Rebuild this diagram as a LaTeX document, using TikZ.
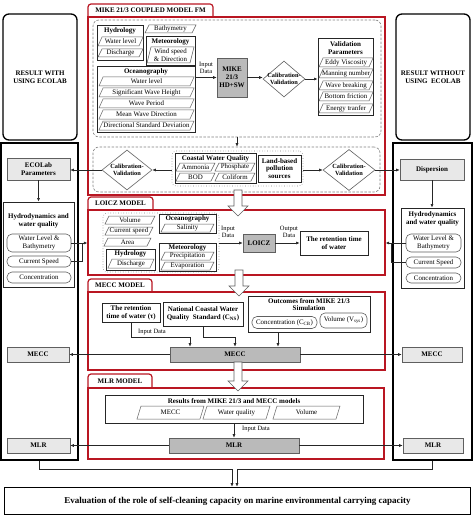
\documentclass[tikz,border=0pt]{standalone}
\usepackage{fontspec}
\setmainfont{Liberation Serif}
\usepackage{tikz}
\usetikzlibrary{calc,positioning,fit,shapes.geometric,arrows.meta}
\definecolor{modelred}{RGB}{185,22,34}
\definecolor{boxgray}{RGB}{186,186,186}
\definecolor{lightfill}{RGB}{232,232,232}
\definecolor{edgegray}{RGB}{95,95,95}
\def\slantbox#1(#2,#3,#4,#5)#6{\draw[slantline] ({#2+2},#3) -- ({#4+2},#3) -- ({#4-2},#5) -- ({#2-2},#5) -- cycle;
	\node[itemtext] (#1) at ({(#2+#4)/2},{(#3+#5)/2}) {#6};}
\def\hollowdown(#1,#2,#3){\draw[hollowline] ({#1-4},#2) -- ({#1+4},#2) -- ({#1+4},{#3-10}) -- ({#1+10},{#3-10}) -- (#1,#3) -- ({#1-10},{#3-10}) -- ({#1-4},{#3-10}) -- cycle;}

\begin{document}
\begin{tikzpicture}[x=1pt, y=-1pt,
	itemtext/.style={inner sep=0, font=\fontsize{6.9}{7.4}\selectfont, align=center},
	lbl/.style={inner sep=0, font=\fontsize{6.5}{7.2}\selectfont, align=center},
	head/.style={inner sep=0, font=\bfseries\fontsize{7}{7.8}\selectfont, align=center},
	slantline/.style={draw=edgegray, line width=0.5pt, fill=white},
	hollowline/.style={draw=edgegray, line width=0.6pt, fill=white},
	redline/.style={draw=modelred, line width=1.2pt},
	catbox/.style={draw=black!85, line width=0.9pt, fill=white, inner sep=0},
	plainbox/.style={draw=black!85, line width=0.8pt, fill=white, inner sep=0, font=\bfseries\fontsize{7}{7.8}\selectfont, align=center},
	graybox/.style={draw=edgegray, line width=0.6pt, fill=boxgray, inner sep=0, font=\bfseries\fontsize{7}{7.8}\selectfont, align=center},
	lightbox/.style={draw=edgegray, line width=0.6pt, fill=lightfill, inner sep=0, font=\bfseries\fontsize{7}{7.8}\selectfont, align=center},
	pill/.style={draw=edgegray, line width=0.6pt, rounded corners=5pt, inner sep=0, font=\fontsize{6.9}{7.4}\selectfont, align=center},
	dashbox/.style={draw=gray, line width=0.6pt, dash pattern=on 2.5pt off 1.5pt, rounded corners=6pt, inner sep=0},
	dotbox/.style={draw=gray, line width=0.6pt, dotted, rounded corners=4pt, inner sep=0},
	caldiam/.style={diamond, draw=edgegray, line width=0.6pt, fill=white, inner sep=0},
	outerbox/.style={draw=black, line width=1.4pt, inner sep=0},
	resbox/.style={draw=black, line width=1.3pt, rounded corners=6pt, inner sep=0},
	conn/.style={draw=black!85, line width=0.6pt, -{Latex[length=3.5pt,width=3pt]}},
	]
	%%%%% START %%%%%
	\useasboundingbox (0,0) rectangle (474,516);
	
	% left column
	\node[resbox, fit={(3,14) (77,140)}] (resL) {};
	\node[head] (resLt) at (resL) {RESULT WITH\\USING ECOLAB};
	\node[outerbox, fit={(1,143) (78,460)}] (colL) {};
	\node[lightbox, minimum width=63, minimum height=22] (ecoL) at (38.5,169) {ECOLab\\Parameters};
	\node[catbox, fit={(3,202) (74,287)}] (hydL) {};
	\node[head] (hydLt) at (38.5,221) {Hydrodynamics and\\water quality};
	\node[pill, minimum width=64, minimum height=18] (wlL) at (39,243) {Water Level \&\\Bathymetry};
	\node[pill, minimum width=64, minimum height=11] (csL) at (39,261.5) {Current Speed};
	\node[pill, minimum width=64, minimum height=11] (coL) at (39,277.5) {Concentration};
	\node[lightbox, minimum width=62, minimum height=15] (meccL) at (38,354.5) {MECC};
	\node[lightbox, minimum width=63, minimum height=15] (mlrL) at (38.5,445.5) {MLR};
	
	% right column
	\node[resbox, fit={(396,14) (470,140)}] (resR) {};
	\node[head] (resRt) at (resR) {RESULT WITHOUT\\USING\ \ ECOLAB};
	\node[outerbox, fit={(393,143) (472,460)}] (colR) {};
	\node[lightbox, minimum width=64, minimum height=21] (disp) at (432,169.5) {Dispersion};
	\node[catbox, fit={(401,208) (464,288)}] (hydR) {};
	\node[head] (hydRt) at (432.5,219) {Hydrodynamics\\and water quality};
	\node[pill, minimum width=55, minimum height=18] (wlR) at (433.5,243) {Water Level \&\\Bathymetry};
	\node[pill, minimum width=55, minimum height=11] (csR) at (433.5,262.5) {Current Speed};
	\node[pill, minimum width=55, minimum height=10] (coR) at (433.5,278) {Concentration};
	\node[lightbox, minimum width=60, minimum height=15] (meccR) at (432,354.5) {MECC};
	\node[lightbox, minimum width=60, minimum height=15] (mlrR) at (433,445.5) {MLR};
	
	% MIKE 21/3
	\draw[redline, rounded corners=3pt, fill=white] (88,17) -- (88,4) -- (213,4) -- (213,17);
	\node[head] (mikeT) at (150.5,10.5) {MIKE 21/3 COUPLED MODEL FM};
	\node[redline, inner sep=0, fit={(88,17) (385,195)}] (mikeF) {};
	\node[dashbox, fit={(93,20) (381,137)}] (mikeIn) {};
	
	\node[catbox, fit={(97,25) (143,60)}] (hydro1) {};
	\node[head] (hydro1t) at (120,31) {Hydrology};
	\slantbox{pwl1}(100,37,141,46){Water level}
	\slantbox{pdis1}(100,49,141,57){Discharge}
	\slantbox{pbat}(147,25,194,33){Bathymetry}
	\node[catbox, fit={(146,36) (195,65)}] (meteo1) {};
	\node[head] (meteo1t) at (170.5,42) {Meteorology};
	\slantbox{pwind}(149,47,192,63){Wind speed\\\& Direction}
	\node[catbox, fit={(97,66) (195,132)}] (ocean1) {};
	\node[head] (ocean1t) at (146,72) {Oceanography};
	\slantbox{pwl2}(101,77,192,86){Water level}
	\slantbox{pswh}(101,88,192,97){Significant Wave Height}
	\slantbox{pwp}(101,99,192,108){Wave Period}
	\slantbox{pmwd}(101,110,192,119){Mean Wave Direction}
	\slantbox{pdsd}(101,121,192,130){Directional Standard Deviation}
	
	\node[lbl] (in1) at (206,68) {Input\\Data};
	\node[graybox, minimum width=30, minimum height=39] (mike) at (232,77.5) {MIKE\\21/3\\HD+SW};
	\node[caldiam, minimum width=42, minimum height=36] (cal1) at (284,79) {};
	\node[head, font=\bfseries\fontsize{6.3}{7}\selectfont] (cal1t) at (cal1) {Calibration-\\Validation};
	\node[catbox, fit={(318,38) (373,115)}] (valid) {};
	\node[head] (validt) at (345.5,48) {Validation\\Parameters};
	\slantbox{pev}(321,58,371,67){Eddy Viscosity}
	\slantbox{pmn}(321,69,371,78){Manning number}
	\slantbox{pwb}(321,81,371,90){Wave breaking}
	\slantbox{pbf}(321,92,371,101){Bottom friction}
	\slantbox{pet}(321,104,371,113){Energy tranfer}
	
	\draw[conn] (ocean1.east |- mike.west) -- (mike.west);
	\draw[conn] (mike.east) -- (mike.east -| cal1.west);
	\draw[conn] (cal1.east) -- (cal1.east -| valid.west);
	
	% water quality calibration
	\node[dashbox, fit={(93,147) (380,192)}] (cwqIn) {};
	\draw[conn] (mikeIn.south) -- (mikeIn.south |- cwqIn.north);
	\node[caldiam, minimum width=50, minimum height=40] (cal2L) at (127,170) {};
	\node[head, font=\bfseries\fontsize{6.3}{7}\selectfont] (cal2Lt) at (cal2L) {Calibration-\\Validation};
	\node[dotbox, fit={(172,151) (303,186)}] (cwqG) {};
	\node[catbox, fit={(175,153) (256,183)}] (cwq) {};
	\node[head] (cwqt) at (215.5,158.5) {Coastal Water Quality};
	\slantbox{pamm}(178,163,213,171){Ammonia}
	\slantbox{ppho}(217,163,253,171){Phosphate}
	\slantbox{pbod}(178,173,213,181){BOD}
	\slantbox{pcol}(217,173,253,181){Coliform}
	\node[plainbox, minimum width=43, minimum height=27] (land) at (279.5,168.5) {Land-based\\pollution\\sources};
	\node[caldiam, minimum width=52, minimum height=41] (cal2R) at (349,170) {};
	\node[head, font=\bfseries\fontsize{6.3}{7}\selectfont] (cal2Rt) at (cal2R) {Calibration-\\Validation};
	
	\draw[conn] (cwqG.west |- cal2L) -- (cal2L.east);
	\draw[conn] (cwqG.east |- cal2R) -- (cal2R.west);
	\draw[conn] (cal2L.west) -- (cal2L.west -| ecoL.east);
	\draw[conn] (cal2R.east) -- (cal2R.east -| disp.west);
	\draw[conn] (ecoL.south) -- (hydL.north);
	\draw[conn] (disp.south) -- (disp.south |- hydR.north);
	
	% LOICZ
	\draw[redline, rounded corners=3pt, fill=white] (88,210) -- (88,197) -- (153,197) -- (153,210);
	\node[head] (loiczT) at (120.5,203.5) {LOICZ MODEL};
	\node[redline, inner sep=0, fit={(88,210) (385,275)}] (loiczF) {};
	\node[dotbox, fit={(103,213) (219,272)}] (loiczIn) {};
	\slantbox{pvol}(107,216,153,224){Volume}
	\slantbox{pcs}(107,227,151,235){Current speed}
	\slantbox{parea}(106,238,149,246){Area}
	\node[catbox, fit={(106,249) (155,270)}] (hydro2) {};
	\node[head] (hydro2t) at (130.5,254) {Hydrology};
	\slantbox{pdis2}(110,259,152,268){Discharge}
	\node[catbox, fit={(159,214) (216,233)}] (ocean2) {};
	\node[head] (ocean2t) at (187.5,219) {Oceanography};
	\slantbox{psal}(163,224,212,232){Salinity}
	\node[catbox, fit={(159,243) (216,271)}] (meteo2) {};
	\node[head] (meteo2t) at (187.5,248) {Meteorology};
	\slantbox{pprec}(163,252,212,260){Precipitation}
	\slantbox{pevap}(163,262,212,270){Evaporation}
	
	\node[lbl] (in2) at (228,232) {Input\\Data};
	\node[graybox, minimum width=32, minimum height=18] (loicz) at (259,243) {LOICZ};
	\node[lbl] (out2) at (289,232) {Output\\Data};
	\node[plainbox, minimum width=68, minimum height=24] (ret) at (334,243) {The retention time\\of water};
	\draw[conn] (loiczIn.east |- loicz) -- (loicz.west);
	\draw[conn] (loicz.east) -- (ret.west);
	
	\coordinate (jL) at (82,243);
	\coordinate (jR) at (391,243);
	\draw[conn] (wlL.east) -- (wlL.east -| loiczF.west);
	\draw[draw=black!85, line width=0.6pt] (csL.east) -| (jL);
	\draw[conn] (wlR.west) -- (wlR.west -| loiczF.east);
	\draw[draw=black!85, line width=0.6pt] (csR.west) -| (jR);
	
	% MECC
	\draw[redline, rounded corners=3pt, fill=white] (88,292) -- (88,279) -- (152,279) -- (152,292);
	\node[head] (meccT) at (120,285.5) {MECC MODEL};
	\node[redline, inner sep=0, fit={(88,292) (385,370)}] (meccF) {};
	\node[plainbox, minimum width=58, minimum height=19] (ret2) at (131,312.5) {The retention\\time of water (τ)};
	\node[plainbox, minimum width=80, minimum height=24] (ncws) at (203,314) {National Coastal Water\\Quality\ \ Standard (C\textsubscript{NS})};
	\node[catbox, fit={(248,296) (370,332)}] (outc) {};
	\node[head] (outct) at (309,304.5) {Outcomes from MIKE 21/3\\Simulation};
	\node[pill, minimum width=65, minimum height=12] (concB) at (284.5,322.5) {Concentration (C\textsubscript{CB})};
	\node[pill, minimum width=47, minimum height=15] (volB) at (343.5,320.5) {Volume (V\textsubscript{sys})};
	\node[lbl] (in3) at (152,332) {Input Data};
	\node[graybox, minimum width=130, minimum height=15] (mecc) at (235,354.5) {MECC};
	
	\draw[conn] (ret2.south) |- (190,337) -- (190,0 |- mecc.north);
	\draw[conn] (ncws.south) |- (235,337) -- (235,0 |- mecc.north);
	\draw[conn] (278,0 |- outc.south) -- (278,0 |- mecc.north);
	\draw[conn] (mecc.west) -- (meccL.east);
	\draw[conn] (mecc.east) -- (meccR.west);
	
	% MLR
	\draw[redline, rounded corners=3pt, fill=white] (88,388) -- (88,374) -- (152,374) -- (152,388);
	\node[head] (mlrT) at (120,381) {MLR MODEL};
	\node[redline, inner sep=0, fit={(88,388) (384,459)}] (mlrF) {};
	\node[catbox, fit={(105,395) (363,423)}] (results) {};
	\node[head] (resultst) at (234,401.5) {Results from MIKE 21/3 and MECC models};
	\slantbox{pmecc}(139,406,202,419){MECC}
	\slantbox{pwq}(205,406,268,419){Water quality}
	\slantbox{pvol2}(275,406,338,419){Volume}
	\node[lbl] (in4) at (256,429.5) {Input Data};
	\node[graybox, minimum width=130, minimum height=15] (mlr) at (234,445.5) {MLR};
	\draw[conn] (results.south) -- (mlr.north);
	\draw[conn] (mlr.west) -- (mlrL.east);
	\draw[conn] (mlr.east) -- (mlrR.west);
	
	% hollow arrows between models
	\hollowdown(238,190,216)
	\hollowdown(239,270,296)
	\hollowdown(238,362,391)
	
	% evaluation
	\node[draw=black, line width=1.6pt, minimum width=466, minimum height=27, inner sep=0, font=\bfseries\fontsize{9}{10}\selectfont] (eval) at (237.5,501) {Evaluation of the role of self-cleaning capacity on marine environmental carrying capacity};
	\draw[conn] (colL.south) |- (232,469) -- (232,0 |- eval.north);
	\draw[conn] (colR.south) |- (237,469) -- (237,0 |- eval.north);
	
	%%%%% END %%%%%
\end{tikzpicture}
\end{document}
